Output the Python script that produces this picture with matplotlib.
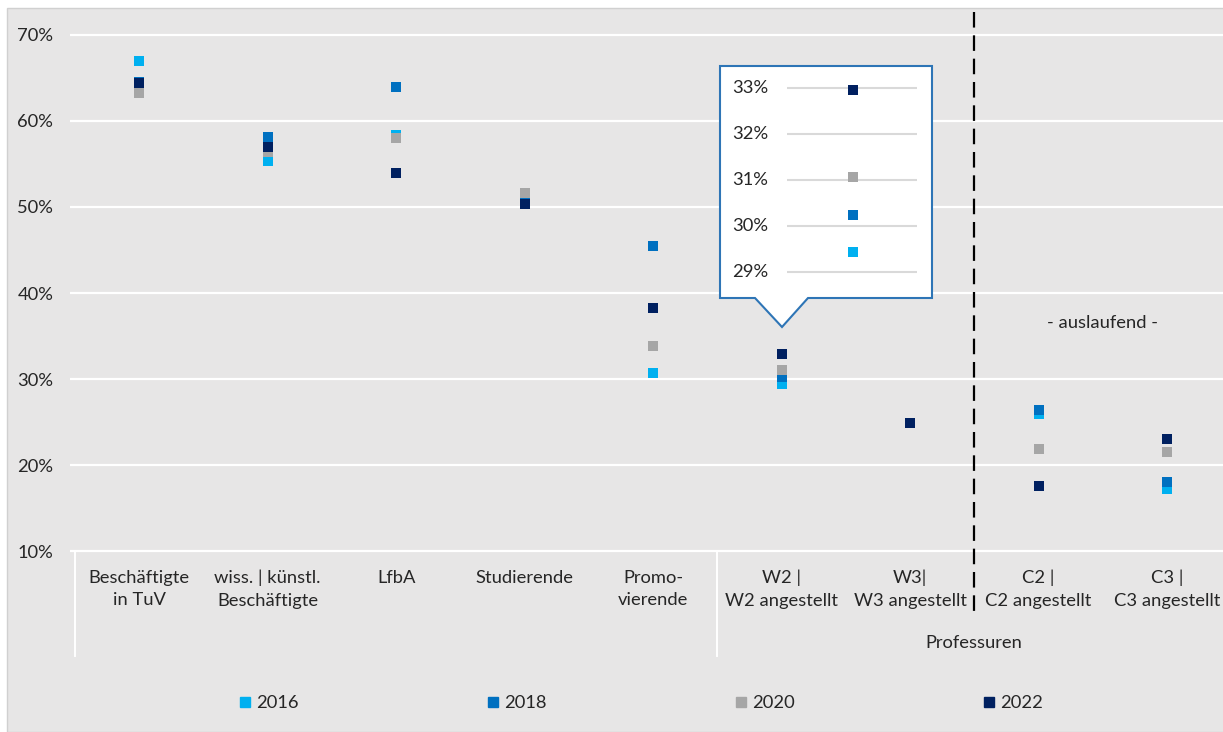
import matplotlib
matplotlib.use("Agg")
import matplotlib.pyplot as plt
from matplotlib.patches import Rectangle, Polygon
from matplotlib.lines import Line2D
import numpy as np

plt.rcParams['font.family'] = ['Lato', 'DejaVu Sans']

categories = ["Beschäftigte\nin TuV", "wiss. | künstl.\nBeschäftigte", "LfbA", "Studierende",
              "Promo-\nvierende", "W2 |\nW2 angestellt", "W3|\nW3 angestellt",
              "C2 |\nC2 angestellt", "C3 |\nC3 angestellt"]
years = ["2016", "2018", "2020", "2022"]
v2016 = [67.0, 55.3, 58.4, 50.4, 30.7, 29.44, 24.9, 25.9, 17.2]
v2018 = [64.5, 58.1, 64.0, 50.5, 45.5, 30.25, 24.9, 26.4, 18.0]
v2020 = [63.3, 56.4, 58.0, 51.6, 33.8, 31.07, 24.9, 21.9, 21.5]
v2022 = [64.4, 57.0, 53.9, 50.3, 38.3, 32.95, 24.9, 17.6, 23.0]
yticks = [10, 20, 30, 40, 50, 60, 70]
inset_ticks = [29, 30, 31, 32, 33]
inset_category = 5  # W2 | W2 angestellt
group_label = "Professuren"
note_label = "- auslaufend -"

colors = ["#00b0f0", "#0070c0", "#a6a6a6", "#002060"]
series = [v2016, v2018, v2020, v2022]
txt = "#262626"
bg = "#e7e6e6"
W, H = 1223, 732
FS = 13.2

fig = plt.figure(figsize=(W / 100, H / 100), dpi=100)
fig.patch.set_facecolor("white")
fig.add_artist(Rectangle((7 / W, 0), 1, 1 - 8 / H, transform=fig.transFigure,
                         facecolor=bg, edgecolor="#d0d0d0", lw=1, zorder=-10))

# main axes: px left 70, right 1223, top 30, bottom 556
ax = fig.add_axes([70 / W, 1 - 556 / H, (1223 - 70) / W, (556 - 30) / H])
ax.set_facecolor("none")
ax.set_xlim(-0.539, 8.436)
ax.set_ylim(9.42, 70.58)
for sp in ax.spines.values():
    sp.set_visible(False)
ax.set_yticks(yticks)
ax.set_yticklabels([f"{t}%" for t in yticks], color=txt, fontsize=FS)
ax.tick_params(axis="y", length=0, pad=12)
for t in yticks:
    ax.axhline(t, color="white", lw=1.6, zorder=1)

x = np.arange(len(categories))
ax.set_xticks(x)
ax.set_xticklabels(categories, color=txt, fontsize=FS, linespacing=1.5, va="top")
ax.tick_params(axis="x", length=0, pad=10)

for vals, c in zip(series, colors):
    ax.scatter(x, vals, marker="s", s=55, color=c, zorder=3, linewidths=0)

# category separators
for xs in [-0.5, 4.5]:
    ax.plot([xs, xs], [10, -2.2], color="white", lw=1.4, clip_on=False, zorder=1)

# dashed divider
ax.plot([6.5, 6.5], [72.7, 2.2], color="black", lw=1.6, ls=(0, (7, 3.5)),
        clip_on=False, zorder=4)

ax.text(6.5, -0.7, group_label, ha="center", va="center", color=txt, fontsize=FS,
        clip_on=False)
ax.text(7.5, 36.5, note_label, ha="center", va="center", color=txt, fontsize=FS)

# callout box
pts_px = [(720, 66), (932, 66), (932, 298), (808, 298), (782, 327), (755, 298), (720, 298)]
pts = [(px / W, 1 - py / H) for px, py in pts_px]
fig.add_artist(Polygon(pts, closed=True, transform=fig.transFigure, facecolor="white",
                       edgecolor="#2e75b6", lw=1.5, zorder=5))

iax = fig.add_axes([720 / W, 1 - 298 / H, 212 / W, 232 / H], zorder=6)
iax.set_facecolor("none")
for sp in iax.spines.values():
    sp.set_visible(False)
iax.set_xticks([])
iax.set_yticks([])
iax.set_xlim(-0.627, 0.373)
iax.set_ylim(28.44, 33.47)
iax.hlines(inset_ticks, -0.311, 0.302, color="#d9d9d9", lw=1.5, zorder=1)
for t in inset_ticks:
    iax.text(0.226, t, f"{t}%", transform=iax.get_yaxis_transform(), ha="right",
             va="center", color=txt, fontsize=FS)
for vals, c in zip(series, colors):
    iax.scatter([0], [vals[inset_category]], marker="s", s=55, color=c, zorder=3,
                linewidths=0)

# legend
handles = [Line2D([], [], marker="s", ls="none", color=c, markersize=7) for c in colors]
fig.legend(handles, years, loc="center", bbox_to_anchor=(641 / W, 1 - 703 / H), ncol=4,
           frameon=False, fontsize=FS, handlelength=0.6, handletextpad=0.3,
           columnspacing=10.3, labelcolor=txt)

fig.savefig("out.png", dpi=100, facecolor=fig.get_facecolor())
